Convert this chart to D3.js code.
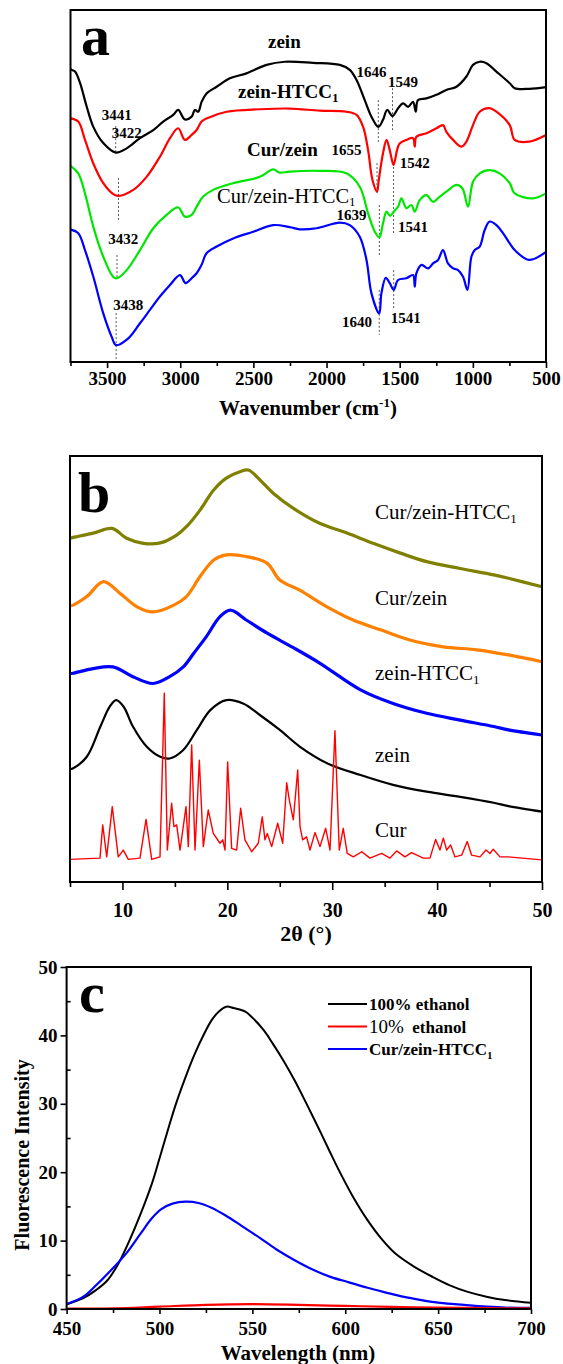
<!DOCTYPE html>
<html>
<head>
<meta charset="utf-8">
<script src="https://cdn.jsdelivr.net/npm/d3@7"></script>
<style>
body { margin: 0; background: #fff; }
svg text { font-family: "Liberation Serif", "Times New Roman", serif; }
</style>
</head>
<body>
<svg id="fig" width="563" height="1364"></svg>
<script>
// ---- panel a : FTIR, [wavenumber cm-1, transmittance a.u.] ----
var ftirZein = [[3750,83.2],[3742,83.0],[3719,82.5],[3685,79.3],[3639,72.5],[3594,66.8],[3526,62.2],[3441,59.5],[3366,60.7],[3275,63.6],[3184,65.9],[3116,68.3],[3048,70.2],[3014,71.6],[2968,68.9],[2922,69.7],[2900,71.6],[2877,71.1],[2854,73.9],[2820,76.3],[2751,78.2],[2661,80.6],[2547,82.0],[2410,84.4],[2285,85.3],[2092,85.0],[1909,84.4],[1841,83.0],[1795,80.1],[1739,74.4],[1693,69.7],[1646,66.8],[1614,68.8],[1586,71.6],[1549,69.9],[1511,72.1],[1477,73.5],[1443,72.5],[1409,73.9],[1390,71.1],[1375,74.4],[1317,74.9],[1249,75.9],[1181,77.3],[1112,78.2],[1044,81.1],[999,84.4],[953,85.3],[907,84.9],[839,82.5],[748,79.2],[714,77.8],[615,77.6],[500,78.1]];
var ftirZeinHTCC = [[3750,69.2],[3697,68.3],[3651,63.1],[3594,56.4],[3526,50.8],[3458,47.7],[3422,47.2],[3321,48.9],[3230,52.6],[3139,58.3],[3070,63.6],[3014,66.4],[2968,63.1],[2922,64.5],[2888,65.9],[2854,68.3],[2820,69.2],[2683,71.1],[2456,71.8],[2251,72.0],[2046,71.4],[1864,71.1],[1795,70.2],[1750,66.8],[1716,60.2],[1686,51.7],[1655,48.4],[1643,51.7],[1614,59.3],[1590,63.1],[1568,60.2],[1542,56.0],[1518,60.2],[1500,62.1],[1454,63.1],[1409,63.6],[1397,61.2],[1386,64.0],[1317,65.0],[1249,66.4],[1204,67.3],[1181,65.4],[1135,63.1],[1078,61.2],[1044,62.6],[999,67.3],[953,71.1],[885,72.1],[839,71.1],[748,67.3],[714,63.1],[615,62.6],[500,64.5]];
var ftirCurZein = [[3750,55.7],[3697,53.6],[3651,47.9],[3594,38.4],[3526,29.9],[3458,24.2],[3432,23.8],[3366,26.1],[3275,31.8],[3184,38.0],[3093,41.8],[3014,43.9],[2968,41.3],[2922,41.8],[2888,44.1],[2843,47.0],[2775,48.9],[2638,50.8],[2456,52.6],[2365,54.7],[2319,53.8],[2251,54.1],[2046,54.3],[1864,53.6],[1773,49.8],[1716,42.2],[1670,37.0],[1639,35.4],[1614,39.4],[1590,42.7],[1565,41.5],[1541,42.7],[1511,44.1],[1488,46.5],[1454,43.7],[1420,44.6],[1397,42.7],[1363,46.0],[1317,47.4],[1272,45.5],[1226,47.0],[1181,48.4],[1112,50.3],[1071,49.3],[1033,44.1],[999,51.2],[953,53.6],[885,54.5],[817,53.6],[748,50.8],[714,47.9],[591,46.5],[500,47.9]];
var ftirCurZeinHTCC = [[3750,37.6],[3697,36.6],[3651,31.8],[3594,24.2],[3526,13.8],[3469,7.2],[3438,4.8],[3355,6.7],[3275,11.0],[3207,14.8],[3139,18.6],[3070,21.9],[3002,24.7],[2963,22.4],[2922,23.8],[2888,25.2],[2854,27.6],[2820,30.9],[2751,32.8],[2638,35.1],[2502,37.0],[2365,38.9],[2251,38.3],[2183,37.7],[2068,38.0],[1909,39.6],[1841,38.9],[1773,35.6],[1727,29.0],[1693,19.5],[1640,13.8],[1625,19.5],[1595,23.9],[1568,22.4],[1541,20.5],[1511,23.3],[1454,23.8],[1409,24.7],[1397,21.4],[1386,25.2],[1351,27.6],[1306,26.6],[1272,28.0],[1238,29.0],[1204,31.8],[1170,28.0],[1135,26.6],[1101,26.1],[1067,24.2],[1037,20.5],[1010,29.9],[987,31.8],[953,32.8],[919,37.5],[885,39.9],[839,38.9],[794,36.6],[748,33.7],[714,31.8],[615,29.0],[500,31.3]];
// dotted guide lines: [wavenumber, top, bottom]
var ftirGuides = [[3441,67.0,59.4],[3422,52.3,39.8],[3432,30.4,23.6],[3438,13.9,0.3],[1646,74.4,62.5],[1549,77.8,65.9],[1655,56.5,48.0],[1542,55.4,36.1],[1639,44.6,29.8],[1541,26.1,14.8],[1640,20.5,7.7]];
// peak labels: [text, wavenumber at centre, value at baseline]
var ftirPeaks = [['3441',3434,68.8],['3422',3366,63.6],['3432',3389,33.4],['3438',3355,14.8],['1646',1693,81.1],['1549',1477,78.2],['1655',1864,58.8],['1542',1397,55.0],['1639',1829,40.3],['1541',1409,37.0],['1640',1791,10.0],['1541',1459,11.0]];
var ftirTicks = [3500,3000,2500,2000,1500,1000,500];

// ---- panel b : XRD, [2theta deg, intensity a.u.] ----
var xrdCurZeinHTCC = [[5,80.7],[5.3,80.9],[7.2,81.9],[9.0,83.0],[10.4,80.7],[12.0,79.5],[13.6,79.6],[15.2,81.5],[16.1,83.4],[17.4,87.3],[18.7,92.0],[19.9,94.8],[21.2,96.3],[22.0,96.7],[23.1,94.4],[24.4,91.2],[26.3,87.7],[28.8,84.2],[31.4,81.9],[33.9,79.5],[36.5,77.2],[39.0,75.2],[42.2,73.6],[45.4,72.1],[46.8,71.3],[50,69.3]];
var xrdCurZein = [[5,64.8],[5.3,65.0],[6.6,67.0],[8.2,70.5],[9.8,67.7],[11.4,64.6],[12.9,63.4],[14.9,65.0],[16.1,67.0],[17.4,71.7],[18.7,75.6],[19.9,76.8],[21.8,76.4],[23.8,74.8],[25.0,70.9],[26.9,68.5],[29.5,64.6],[32.0,61.5],[34.6,59.2],[37.4,56.8],[40.6,55.2],[43.8,54.5],[46.8,53.3],[50,51.7]];
var xrdZeinHTCC = [[5,48.9],[5.3,49.0],[7.2,50.1],[9.1,50.5],[11.0,48.2],[12.9,46.6],[14.5,48.2],[15.8,50.5],[16.8,53.7],[18.0,57.6],[19.3,62.3],[20.3,63.8],[21.8,61.5],[23.8,58.4],[26.3,55.0],[28.8,51.4],[32.7,45.1],[35.8,41.9],[39.0,39.6],[42.2,38.0],[45.4,36.5],[46.8,35.7],[50,34.5]];
var xrdZein = [[5,26.5],[5.3,26.7],[6.6,29.4],[7.9,36.5],[8.8,41.2],[9.4,42.7],[10.1,41.2],[11.0,36.5],[12.3,31.8],[13.6,29.4],[14.5,29.0],[15.8,31.0],[17.1,35.7],[18.4,40.4],[19.9,42.7],[21.5,41.9],[23.1,39.2],[25.0,35.7],[26.9,31.8],[29.5,27.9],[32.7,25.1],[35.8,22.8],[39.0,21.2],[42.2,20.0],[45.4,18.6],[46.8,17.8],[50,16.5]];
var xrdCur = [[5,5.3],[7.86,5.6],[8.12,13.4],[8.5,5.9],[9.03,17.7],[9.6,5.9],[10.08,7.5],[10.56,5.3],[11.67,5.6],[12.25,14.7],[12.79,5.3],[13.58,5.9],[13.99,44.3],[14.28,7.5],[14.69,18.5],[14.91,13.0],[15.17,13.4],[15.49,7.5],[16.06,17.7],[16.28,8.3],[16.6,32.2],[16.92,7.5],[17.33,28.6],[17.71,8.3],[18.18,16.9],[18.66,11.4],[19.3,9.1],[19.56,9.9],[19.78,7.5],[20.03,28.2],[20.41,7.9],[20.89,7.5],[21.27,17.3],[21.68,9.9],[22.32,7.1],[22.95,9.1],[23.33,15.3],[23.59,9.9],[23.81,11.4],[24.23,8.3],[24.8,13.8],[25.28,9.1],[25.66,23.3],[25.91,19.2],[26.29,14.6],[26.71,26.3],[26.93,13.0],[27.18,9.9],[27.56,10.6],[27.88,7.5],[28.36,11.6],[28.83,8.3],[29.38,12.6],[29.79,7.5],[30.26,35.5],[30.67,7.5],[31.05,12.6],[31.43,6.7],[32.01,5.9],[32.81,7.1],[33.6,5.6],[34.71,6.7],[35.5,5.6],[36.14,7.3],[36.93,5.9],[37.57,6.9],[38.68,5.6],[39.32,5.6],[39.86,10.0],[40.27,7.5],[40.59,10.3],[40.91,7.5],[41.29,8.7],[41.7,5.9],[42.34,6.3],[42.87,9.5],[43.29,6.3],[44.09,5.9],[44.66,7.5],[45.04,6.7],[45.35,7.7],[45.99,5.9],[46.78,5.9],[50,5.2]];
var xrdTicks = [10,20,30,40,50];

// ---- panel c : fluorescence, [wavelength nm, intensity] ----
var flEthanol100 = [[450,0.7],[459,1.6],[466,2.8],[472,4.2],[478,6.7],[484,10.1],[490,14.0],[496,18.4],[500,22.0],[505,26.6],[509,30.1],[515,34.6],[519,37.3],[524,40.2],[528,42.2],[532,43.5],[536,44.2],[540,44.0],[546,43.5],[550,42.6],[556,40.8],[561,38.8],[567,36.2],[573,33.3],[579,30.1],[585,26.8],[591,23.4],[596,20.6],[604,16.5],[612,13.0],[620,10.1],[627,8.1],[637,6.2],[647,4.7],[656,3.5],[666,2.5],[676,1.8],[686,1.3],[700,0.9]];
var flEthanol10 = [[450,0.05],[475,0.1],[500,0.35],[525,0.6],[550,0.7],[575,0.6],[600,0.45],[625,0.3],[650,0.2],[675,0.12],[700,0.08]];
var flCurZeinHTCC = [[450,0.7],[459,1.8],[466,3.5],[474,5.7],[482,8.1],[490,11.1],[496,13.3],[501,14.6],[507,15.4],[514,15.7],[521,15.5],[528,14.8],[536,13.6],[544,12.2],[554,10.4],[563,8.7],[573,7.1],[583,5.7],[592,4.7],[602,3.9],[612,3.1],[622,2.4],[631,1.8],[641,1.3],[651,0.9],[664,0.6],[676,0.35],[686,0.2],[700,0.15]];
var flTicksX = [450,500,550,600,650,700];
var flTicksY = [0,10,20,30,40,50];

var svg = d3.select('#fig');
svg.append('rect').attr('width', 563).attr('height', 1364).style('fill', '#fff');

function box(x, y) {
  svg.append('rect')
    .attr('x', x.range()[0]).attr('y', y.range()[1])
    .attr('width', x.range()[1] - x.range()[0])
    .attr('height', y.range()[0] - y.range()[1])
    .style('fill', 'none').style('stroke', '#000').style('stroke-width', 2);
}

function curve(x, y, data, color, w, smooth) {
  var line = d3.line().x(function (d) { return x(d[0]); }).y(function (d) { return y(d[1]); })
    .curve(smooth ? d3.curveCatmullRom.alpha(0.5) : d3.curveLinear);
  svg.append('path').datum(data).attr('d', line)
    .style('fill', 'none').style('stroke', color).style('stroke-width', w)
    .style('stroke-linejoin', 'round');
}

function styleAxis(g, size) {
  g.select('.domain').remove();
  g.selectAll('line').style('stroke', '#000').style('stroke-width', 1.6);
  g.selectAll('text').style('font-family', '"Liberation Serif", serif')
    .style('font-weight', 'bold').style('font-size', size + 'px').style('fill', '#000');
}

function bottomAxis(x, y0, major, minor, big, small, pad, size) {
  var g = svg.append('g').attr('transform', 'translate(0,' + y0 + ')')
    .call(d3.axisBottom(x).tickValues(major).tickSize(big).tickSizeOuter(0).tickPadding(pad).tickFormat(d3.format('d')));
  styleAxis(g, size);
  var m = svg.append('g').attr('transform', 'translate(0,' + y0 + ')')
    .call(d3.axisBottom(x).tickValues(minor).tickSize(small).tickSizeOuter(0).tickFormat(''));
  styleAxis(m, size);
}

function sub(t, main, s, shift) {
  t.append('tspan').text(main);
  t.append('tspan').text(s).attr('dy', shift).style('font-size', '13px');
}

// ===================== panel a =====================
var xA = d3.scaleLinear().domain([3750, 500]).range([70.5, 546]);
var yA = d3.scaleLinear().domain([0, 100]).range([362, 10]);

ftirGuides.forEach(function (d) {
  svg.append('line')
    .attr('x1', xA(d[0])).attr('x2', xA(d[0]))
    .attr('y1', yA(d[1])).attr('y2', yA(d[2]))
    .style('stroke', '#444').style('stroke-width', 0.9).style('stroke-dasharray', '2,2');
});

curve(xA, yA, ftirZein, '#000', 2.2, true);
curve(xA, yA, ftirZeinHTCC, '#ff0000', 2.2, true);
curve(xA, yA, ftirCurZein, '#00e600', 2.2, true);
curve(xA, yA, ftirCurZeinHTCC, '#0000ff', 2.2, true);

box(xA, yA);
bottomAxis(xA, 362, ftirTicks, d3.range(3750, 499, -250).filter(function (v) { return v % 500; }), 6, 4, 4, 19);

svg.selectAll('.peakA').data(ftirPeaks).enter().append('text')
  .attr('x', function (d) { return xA(d[1]); })
  .attr('y', function (d) { return yA(d[2]); })
  .attr('text-anchor', 'middle')
  .style('font-size', '15px').style('font-weight', 'bold')
  .text(function (d) { return d[0]; });

svg.append('text').attr('x', 268).attr('y', 48).style('font-size', '19px').style('font-weight', 'bold').text('zein');
sub(svg.append('text').attr('x', 238).attr('y', 98).style('font-size', '19px').style('font-weight', 'bold'), 'zein-HTCC', '1', 4);
svg.append('text').attr('x', 247).attr('y', 156).style('font-size', '19px').style('font-weight', 'bold').text('Cur/zein');
sub(svg.append('text').attr('x', 217).attr('y', 203).style('font-size', '20.5px'), 'Cur/zein-HTCC', '1', 3);

svg.append('text').attr('x', 81).attr('y', 55).style('font-size', '58px').style('font-weight', 'bold').text('a');

var tA = svg.append('text').attr('x', 308).attr('y', 415).attr('text-anchor', 'middle')
  .style('font-size', '21px').style('font-weight', 'bold');
tA.append('tspan').text('Wavenumber (cm');
tA.append('tspan').text('-1').attr('dy', -8).style('font-size', '13px');
tA.append('tspan').text(')').attr('dy', 8);

// ===================== panel b =====================
var xB = d3.scaleLinear().domain([5, 50]).range([70, 542]);
var yB = d3.scaleLinear().domain([0, 100]).range([882, 456]);

curve(xB, yB, xrdCurZeinHTCC, '#808000', 3.2, true);
curve(xB, yB, xrdCurZein, '#ff8000', 3.2, true);
curve(xB, yB, xrdZeinHTCC, '#0000ff', 3.2, true);
curve(xB, yB, xrdZein, '#000', 2.2, true);
curve(xB, yB, xrdCur, '#ff0000', 1.4, false);

box(xB, yB);
bottomAxis(xB, 882, xrdTicks, [5, 15, 25, 35, 45], 8, 5, 13, 20);

sub(svg.append('text').attr('x', 375).attr('y', 519).style('font-size', '21px'), 'Cur/zein-HTCC', '1', 4);
svg.append('text').attr('x', 375).attr('y', 605).style('font-size', '21px').text('Cur/zein');
sub(svg.append('text').attr('x', 375).attr('y', 680).style('font-size', '21px'), 'zein-HTCC', '1', 4);
svg.append('text').attr('x', 375).attr('y', 762).style('font-size', '21px').text('zein');
svg.append('text').attr('x', 375).attr('y', 837).style('font-size', '21px').text('Cur');

svg.append('text').attr('x', 78).attr('y', 512).style('font-size', '58px').style('font-weight', 'bold').text('b');
svg.append('text').attr('x', 306).attr('y', 941).attr('text-anchor', 'middle')
  .style('font-size', '22px').style('font-weight', 'bold').text('2θ (°)');

// ===================== panel c =====================
var xC = d3.scaleLinear().domain([450, 700]).range([66.6, 531]);
var yC = d3.scaleLinear().domain([0, 50]).range([1309, 967]);

curve(xC, yC, flEthanol100, '#000', 2, true);
curve(xC, yC, flCurZeinHTCC, '#0000ff', 2.2, true);
curve(xC, yC, flEthanol10, '#ff0000', 2.2, true);

box(xC, yC);
bottomAxis(xC, 1309, flTicksX, [475, 525, 575, 625, 675], 5, 4, 8, 19);
var gy = svg.append('g').attr('transform', 'translate(' + xC.range()[0] + ',0)')
  .call(d3.axisLeft(yC).tickValues(flTicksY).tickSize(6).tickSizeOuter(0).tickPadding(3));
styleAxis(gy, 19);
var gym = svg.append('g').attr('transform', 'translate(' + xC.range()[0] + ',0)')
  .call(d3.axisRight(yC).tickValues([5, 15, 25, 35, 45]).tickSize(4).tickSizeOuter(0).tickFormat(''));
styleAxis(gym, 19);

svg.append('text').attr('transform', 'translate(29,1155) rotate(-90)').attr('text-anchor', 'middle')
  .style('font-size', '20px').style('font-weight', 'bold').text('Fluorescence Intensity');
svg.append('text').attr('x', 298).attr('y', 1360).attr('text-anchor', 'middle')
  .style('font-size', '21px').style('font-weight', 'bold').text('Wavelength (nm)');
svg.append('text').attr('x', 79).attr('y', 1012).style('font-size', '58px').style('font-weight', 'bold').text('c');

var legend = [['100% ethanol', '#000'], ['10%  ethanol', '#ff0000'], ['Cur/zein-HTCC', '#0000ff']];
legend.forEach(function (d, i) {
  var ly = 1004 + i * 22.5;
  svg.append('line').attr('x1', 328).attr('x2', 367).attr('y1', ly).attr('y2', ly)
    .style('stroke', d[1]).style('stroke-width', 2);
  var t = svg.append('text').attr('x', 369).attr('y', ly + 6).style('font-size', '17px').style('font-weight', 'bold');
  if (i === 1) {
    t.append('tspan').text('10%').style('font-weight', 'normal').style('font-size', '19px');
    t.append('tspan').text('\u00a0 ethanol');
  } else if (i === 2) {
    t.append('tspan').text(d[0]);
    t.append('tspan').text('1').attr('dy', 4).style('font-size', '11px');
  } else {
    t.text(d[0]);
  }
});
</script>
</body>
</html>
